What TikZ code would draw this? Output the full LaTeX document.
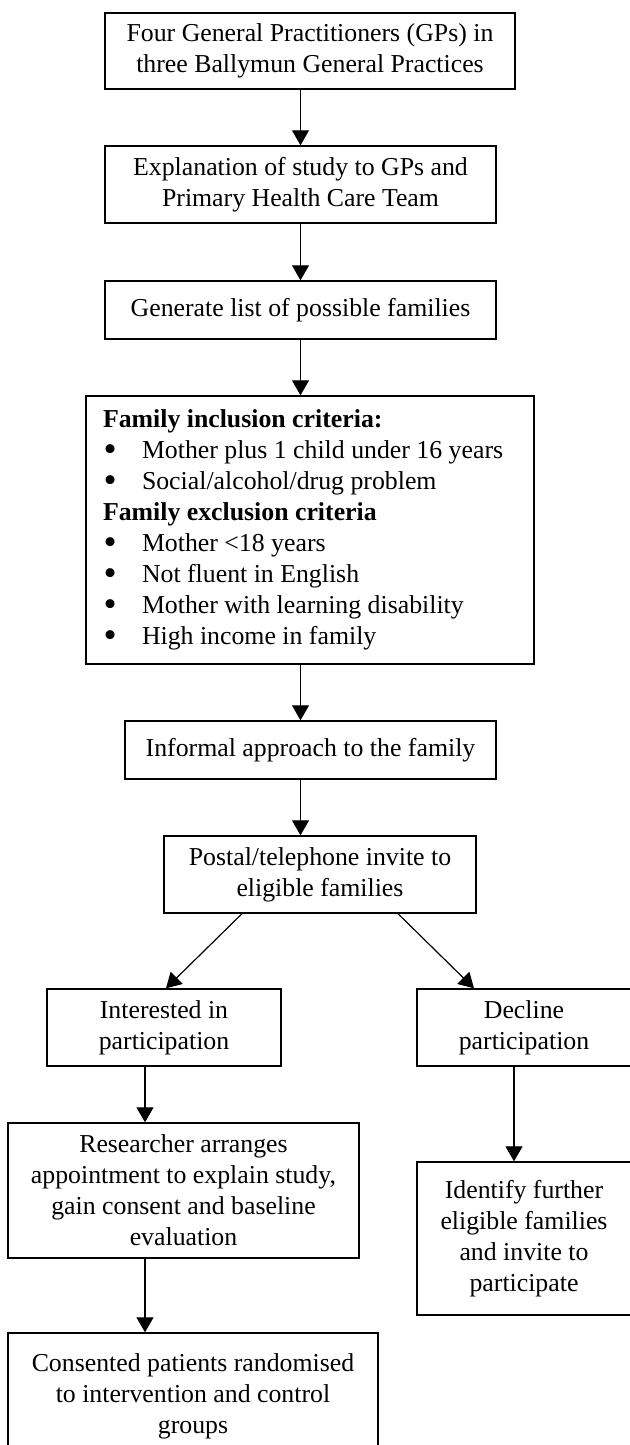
\documentclass[tikz,border=0pt]{standalone}
\usepackage{fontspec}
\usepackage{graphicx}
\setmainfont{Liberation Serif}
\usetikzlibrary{arrows.meta}
\newcommand{\bigbul}{\makebox[19.5pt][l]{\hspace{0.3pt}\smash{\raisebox{-1.6pt}{\scalebox{1.45}{\textbullet}}}}}
\begin{document}
\begin{tikzpicture}[x=0.5pt, y=-0.5pt,
  every node/.style={font=\fontsize{12.9}{15.5}\selectfont},
  flowbox/.style={draw, line width=0.7pt, inner sep=0pt, align=center},
  arr/.style={line width=0.6pt, -{Triangle[length=7.5pt,width=8.5pt]}}]
\clip (0,0) rectangle (630,1445);
\fill[white] (0,0) rectangle (630,1445);

\node[flowbox, minimum width=205pt, minimum height=38pt] (b1) at (310,51)
  {Four General Practitioners (GPs) in\\three Ballymun General Practices};
\node[flowbox, minimum width=195.5pt, minimum height=38.5pt] (b2) at (300.5,184.5)
  {Explanation of study to GPs and\\Primary Health Care Team};
\node[flowbox, minimum width=195.5pt, minimum height=29pt] (b3) at (300.5,310)
  {Generate list of possible families};
\node[flowbox, align=flush left, text width=207pt, inner xsep=8.5pt, minimum width=224pt, minimum height=134pt] (b4) at (310,530)
  {\textbf{Family inclusion criteria:}\\
   \bigbul Mother plus 1 child under 16 years\\
   \bigbul Social/alcohol/drug problem\\
   \textbf{Family exclusion criteria}\\
   \bigbul Mother <18 years\\
   \bigbul Not fluent in English\\
   \bigbul Mother with learning disability\\
   \bigbul High income in family};
\node[flowbox, minimum width=185.5pt, minimum height=29pt] (b5) at (310.5,750)
  {Informal approach to the family};
\node[flowbox, minimum width=156pt, minimum height=38.5pt] (b6) at (320,874.5)
  {Postal/telephone invite to\\eligible families};
\node[flowbox, minimum width=117pt, minimum height=38.5pt] (b7) at (164,1027.5)
  {Interested in\\participation};
\node[flowbox, minimum width=107pt, minimum height=38.5pt] (b8) at (524,1027.5)
  {Decline\\participation};
\node[flowbox, minimum width=175.5pt, minimum height=67.5pt] (b9) at (183.5,1190.5)
  {Researcher arranges\\appointment to explain study,\\gain consent and baseline\\evaluation};
\node[flowbox, minimum width=107pt, minimum height=76.5pt] (b10) at (524,1238.5)
  {Identify further\\eligible families\\and invite to\\participate};
\node[flowbox, minimum width=185pt, minimum height=63.5pt] (b11) at (193,1396.5)
  {Consented patients randomised\\to intervention and control\\groups};

\coordinate (ax) at (300.5,0);
\coordinate (axL) at (145,0);
\coordinate (axR) at (514,0);
\coordinate (dl1) at (242,0);
\coordinate (dl2) at (166,0);
\coordinate (dr1) at (398,0);
\coordinate (dr2) at (474,0);

\draw[arr] (b1.south -| ax) -- (b2.north -| ax);
\draw[arr] (b2.south -| ax) -- (b3.north -| ax);
\draw[arr] (b3.south -| ax) -- (b4.north -| ax);
\draw[arr] (b4.south -| ax) -- (b5.north -| ax);
\draw[arr] (b5.south -| ax) -- (b6.north -| ax);
\draw[arr] (b6.south -| dl1) -- (b7.north -| dl2);
\draw[arr] (b6.south -| dr1) -- (b8.north -| dr2);
\draw[arr] (b7.south -| axL) -- (b9.north -| axL);
\draw[arr] (b9.south -| axL) -- (b11.north -| axL);
\draw[arr] (b8.south -| axR) -- (b10.north -| axR);
\end{tikzpicture}
\end{document}
